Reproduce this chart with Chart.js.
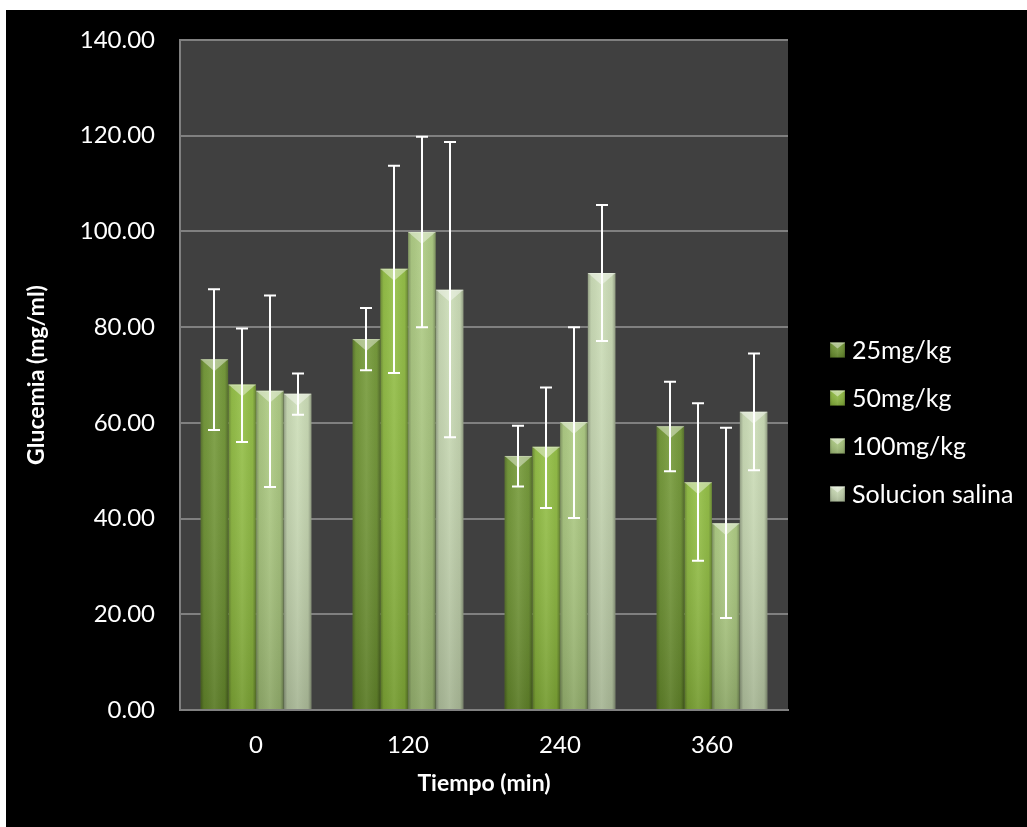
<!DOCTYPE html>
<html><head><meta charset="utf-8">
<script src="https://cdn.jsdelivr.net/npm/chart.js@4"></script>
<style>
html,body{margin:0;padding:0;background:#fff;}
#wrap{position:absolute;left:6px;top:10px;width:1021px;height:817px;background:#000;}
canvas{display:block;}
</style></head><body>
<div id="wrap"><canvas id="c" width="1021" height="817"></canvas></div>
<script>
const categories = ['0', '120', '240', '360'];
const seriesNames = ['25mg/kg', '50mg/kg', '100mg/kg', 'Solucion salina'];
const dose25  = [73.3, 77.5, 53.1, 59.3];
const dose50  = [68.0, 92.2, 55.0, 47.6];
const dose100 = [66.7, 99.9, 60.2, 39.0];
const salina  = [66.1, 87.8, 91.3, 62.3];
const dose25High  = [87.9, 84.0, 59.4, 68.6];
const dose25Low   = [58.5, 71.0, 46.7, 49.9];
const dose50High  = [79.7, 113.7, 67.4, 64.1];
const dose50Low   = [56.0, 70.4, 42.2, 31.2];
const dose100High = [86.6, 119.8, 80.0, 59.0];
const dose100Low  = [46.6, 80.0, 40.1, 19.2];
const salinaHigh  = [70.3, 118.7, 105.5, 74.5];
const salinaLow   = [61.7, 57.0, 77.1, 50.1];
const yTicks = [0, 20, 40, 60, 80, 100, 120, 140];

const colors = ['#6f9630', '#8fbd3d', '#abca7e', '#cadcb4'];
const highs = [dose25High, dose50High, dose100High, salinaHigh];
const lows = [dose25Low, dose50Low, dose100Low, salinaLow];
const values = [dose25, dose50, dose100, salina];

Chart.defaults.font.family = 'Lato, "Open Sans", sans-serif';

function shadeBar(ctx, l, top, w, h, bevel) {
  let g = ctx.createLinearGradient(l, 0, l + w, 0);
  g.addColorStop(0, 'rgba(0,0,0,0.30)');
  g.addColorStop(0.12, 'rgba(0,0,0,0.06)');
  g.addColorStop(0.5, 'rgba(255,255,255,0.08)');
  g.addColorStop(0.88, 'rgba(0,0,0,0.06)');
  g.addColorStop(1, 'rgba(0,0,0,0.32)');
  ctx.fillStyle = g;
  ctx.fillRect(l, top, w, h);
  let v = ctx.createLinearGradient(0, top, 0, top + h);
  v.addColorStop(0, 'rgba(255,255,255,0.06)');
  v.addColorStop(1, 'rgba(0,0,0,0.16)');
  ctx.fillStyle = v;
  ctx.fillRect(l, top, w, h);
  const bh = Math.min(bevel, h);
  ctx.beginPath();
  ctx.moveTo(l, top); ctx.lineTo(l + w, top); ctx.lineTo(l + w / 2, top + bh); ctx.closePath();
  ctx.fillStyle = 'rgba(255,255,255,0.42)';
  ctx.fill();
  ctx.fillStyle = 'rgba(255,255,255,0.25)';
  ctx.fillRect(l, top, w, 1);
}

const fx = {
  id: 'fx',
  beforeDraw(chart) {
    const {ctx, chartArea: a} = chart;
    ctx.save();
    ctx.fillStyle = '#404040';
    ctx.fillRect(a.left, a.top, a.right - a.left, a.bottom - a.top);
    ctx.restore();
  },
  afterDatasetsDraw(chart) {
    const ctx = chart.ctx;
    const ys = chart.scales.y;
    ctx.save();
    chart.data.datasets.forEach((ds, i) => {
      chart.getDatasetMeta(i).data.forEach((bar) => {
        const p = bar.getProps(['x', 'y', 'base', 'width'], true);
        shadeBar(ctx, p.x - p.width / 2, p.y, p.width, p.base - p.y, 12);
      });
    });
    ctx.strokeStyle = '#ffffff';
    ctx.lineWidth = 2;
    chart.data.datasets.forEach((ds, i) => {
      chart.getDatasetMeta(i).data.forEach((bar, j) => {
        const x = Math.round(bar.x);
        const yh = ys.getPixelForValue(highs[i][j]);
        const yl = ys.getPixelForValue(lows[i][j]);
        ctx.beginPath();
        ctx.moveTo(x, yh); ctx.lineTo(x, yl);
        ctx.moveTo(x - 6, yh); ctx.lineTo(x + 6, yh);
        ctx.moveTo(x - 6, yl); ctx.lineTo(x + 6, yl);
        ctx.stroke();
      });
    });
    ctx.restore();
  },
  afterDraw(chart) {
    const ctx = chart.ctx;
    ctx.save();
    const n = chart.data.datasets.length;
    const gap = 48;
    const cy = chart.height / 2 + 3 - gap * (n - 1) / 2;
    const bx = 824;
    ctx.font = '25px Lato, "Open Sans", sans-serif';
    ctx.textBaseline = 'middle';
    chart.data.datasets.forEach((ds, i) => {
      const y = cy + i * gap;
      ctx.fillStyle = ds.backgroundColor;
      ctx.fillRect(bx, y - 7, 15, 15);
      shadeBar(ctx, bx, y - 7, 15, 15, 6);
      ctx.fillStyle = '#ffffff';
      ctx.fillText(ds.label, bx + 22, y + 1);
    });
    ctx.restore();
  }
};

const datasets = seriesNames.map((name, i) => ({
  label: name,
  data: values[i],
  backgroundColor: colors[i],
  borderWidth: 0,
  categoryPercentage: 0.73,
  barPercentage: 0.99
}));

new Chart(document.getElementById('c'), {
  type: 'bar',
  data: { labels: categories, datasets },
  plugins: [fx],
  options: {
    responsive: false,
    animation: false,
    layout: { padding: { top: 30, right: 239, left: 0, bottom: 0 } },
    plugins: { legend: { display: false }, tooltip: { enabled: false } },
    scales: {
      x: {
        grid: { display: false, drawTicks: false },
        border: { display: true, color: '#808080', width: 2 },
        ticks: { color: '#ffffff', font: { size: 24 }, padding: 21 },
        title: { display: true, text: 'Tiempo (min)', color: '#ffffff',
                 font: { size: 23, weight: 'bold' }, padding: { top: 4, bottom: 30 } },
        afterFit(s) { s.height = 117; s.paddingLeft = 0; s.paddingRight = 0; }
      },
      y: {
        min: 0, max: 140,
        afterBuildTicks(s) { s.ticks = yTicks.map(v => ({ value: v })); },
        grid: { color: '#808080', lineWidth: 2, drawTicks: false },
        border: { display: true, color: '#808080', width: 2 },
        ticks: { color: '#ffffff', font: { size: 24 }, padding: 25,
                 callback: v => Number(v).toFixed(2) },
        title: { display: true, text: 'Glucemia (mg/ml)', color: '#ffffff',
                 font: { size: 23, weight: 'bold' }, padding: { top: 17, bottom: 0 } },
        afterFit(s) { s.width = 174; s.paddingTop = 0; s.paddingBottom = 0; }
      }
    }
  }
});
</script>
</body></html>
